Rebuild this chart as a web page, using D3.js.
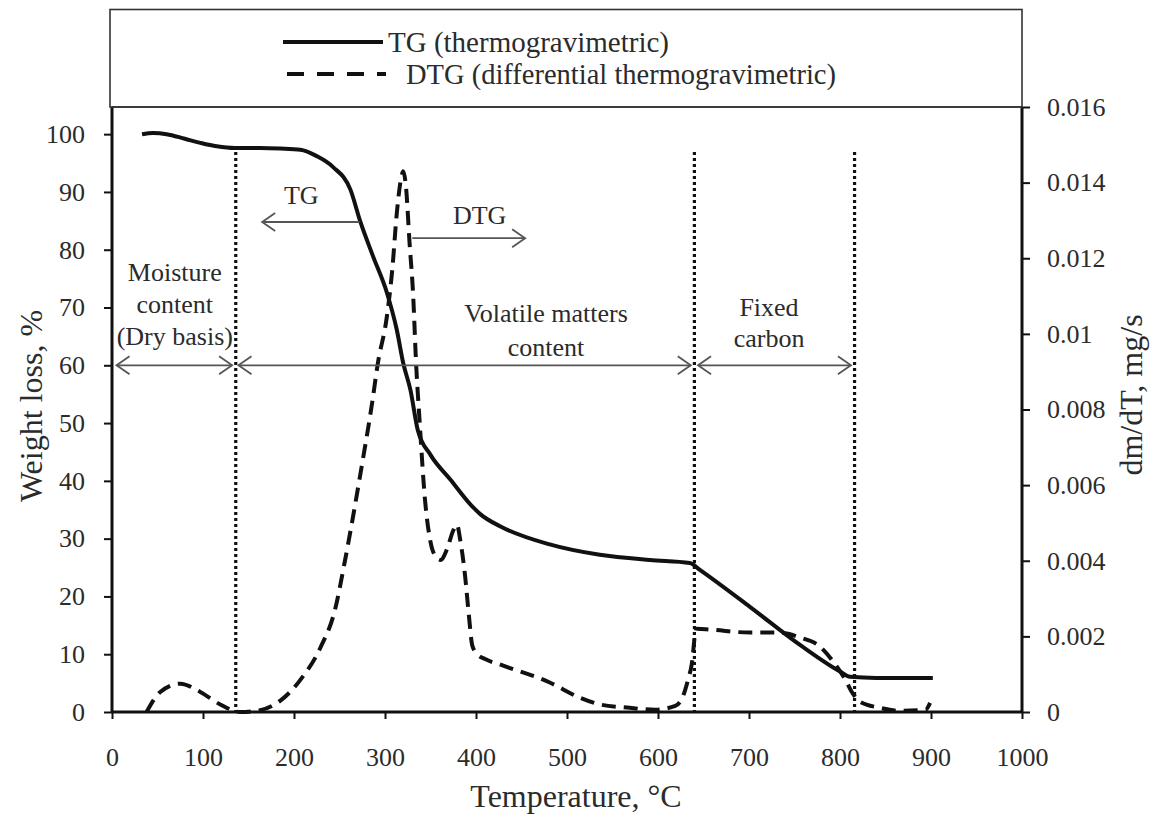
<!DOCTYPE html>
<html>
<head>
<meta charset="utf-8">
<script src="https://cdn.jsdelivr.net/npm/d3@7"></script>
<style>
  body { margin: 0; background: #fff; }
  text { font-family: "Liberation Serif", "Times New Roman", serif; fill: #2b2b2b; }
</style>
</head>
<body>
<div id="chart"></div>
<script>
// TG curve (weight %, left axis)
var tgTemp   = [33, 45, 60, 80, 97, 115, 135, 163, 185, 207, 225, 243, 262, 273, 287, 302, 313, 320, 328, 336, 350, 372, 394, 405, 427, 481, 536, 591, 635, 646, 701, 756, 800, 811, 840, 866, 902];
var tgWeight = [100, 100.2, 100, 99.2, 98.5, 97.9, 97.6, 97.6, 97.5, 97.3, 96.2, 94.3, 90.4, 84.8, 78.8, 72.6, 66.1, 60.4, 55.7, 48.8, 44.5, 40.2, 35.9, 34.2, 32.1, 29, 27.2, 26.3, 25.8, 24.6, 18.2, 11.6, 7, 6.1, 5.9, 5.9, 5.9];

// DTG curve (dm/dT, right axis)
var dtgTemp = [38, 53, 75, 97, 119, 141, 163, 185, 207, 229, 245, 256, 273, 286, 292, 302, 308, 313, 318, 320, 323, 327, 331, 334, 338, 344, 350, 356, 361, 368, 375, 379, 383, 388, 392, 396, 402, 410, 427, 481, 514, 536, 569, 597, 619, 628, 633, 637, 642, 657, 701, 734, 756, 778, 795, 806, 813, 822, 844, 866, 894, 899];
var dtgRate = [0, 0.00053, 0.00075, 0.00053, 0.0002, 0, 0.00005, 0.0003, 0.00085, 0.0017, 0.0027, 0.004, 0.0063, 0.0082, 0.0092, 0.01045, 0.0117, 0.0132, 0.01415, 0.0143, 0.0139, 0.0124, 0.011, 0.0093, 0.0077, 0.0056, 0.0045, 0.0041, 0.00402, 0.0043, 0.0048, 0.00495, 0.0045, 0.0036, 0.0026, 0.00175, 0.00152, 0.0014, 0.00125, 0.00078, 0.00038, 0.0002, 0.00011, 0.00006, 0.00016, 0.00045, 0.00085, 0.00125, 0.0022, 0.00218, 0.0021, 0.0021, 0.00197, 0.00173, 0.00125, 0.00085, 0.00053, 0.00027, 0.00011, 0.00003, 0.00006, 0.00024];

var xTicks = [0, 100, 200, 300, 400, 500, 600, 700, 800, 900, 1000];
var yLeftTicks = [0, 10, 20, 30, 40, 50, 60, 70, 80, 90, 100];
var yRightTicks = [0, 0.002, 0.004, 0.006, 0.008, 0.01, 0.012, 0.014, 0.016];

// stage boundaries (temperature, °C)
var dividers = [136, 640, 816];

var svgWidth = 1157;
var svgHeight = 817;

var margin = { top: 107, right: 135, bottom: 105, left: 112 };
var chartWidth = svgWidth - margin.left - margin.right;
var chartHeight = svgHeight - margin.top - margin.bottom;

var serif = "Liberation Serif, Times New Roman, serif";

var svg = d3.select("#chart")
  .append("svg")
  .attr("width", svgWidth)
  .attr("height", svgHeight);

var chartGroup = svg.append("g")
  .attr("transform", `translate(${margin.left}, ${margin.top})`);

var xScale = d3.scaleLinear().domain([0, 1000]).range([0, chartWidth]);
var yLeft = d3.scaleLinear().domain([0, 104.7]).range([chartHeight, 0]);
var yRight = d3.scaleLinear().domain([0, 0.016]).range([chartHeight, 0]);

// legend box above the plot
svg.append("rect")
  .attr("x", 110).attr("y", 9.5)
  .attr("width", margin.left + chartWidth - 110)
  .attr("height", margin.top - 9.5)
  .attr("fill", "none")
  .attr("stroke", "#333")
  .attr("stroke-width", 1.6);

svg.append("line")
  .attr("x1", 283).attr("x2", 383).attr("y1", 42).attr("y2", 42)
  .attr("stroke", "#111").attr("stroke-width", 4);
svg.append("text")
  .attr("x", 388).attr("y", 52)
  .attr("font-family", serif)
  .attr("font-size", 29)
  .text("TG (thermogravimetric)");

svg.append("line")
  .attr("x1", 287).attr("x2", 386).attr("y1", 74).attr("y2", 74)
  .attr("stroke", "#111").attr("stroke-width", 4)
  .attr("stroke-dasharray", "17,13");
svg.append("text")
  .attr("x", 406).attr("y", 84)
  .attr("font-family", serif)
  .attr("font-size", 28.5)
  .text("DTG (differential thermogravimetric)");

// top border of plot
chartGroup.append("line")
  .attr("x1", 0).attr("x2", chartWidth).attr("y1", 0).attr("y2", 0)
  .attr("stroke", "#333").attr("stroke-width", 1.6);

// axes
var bottomAxis = d3.axisBottom(xScale).tickValues(xTicks).tickSize(7).tickPadding(29)
  .tickFormat(d3.format("d"));
var leftAxis = d3.axisLeft(yLeft).tickValues(yLeftTicks).tickSize(8).tickPadding(19);
var rightAxis = d3.axisRight(yRight).tickValues(yRightTicks).tickSize(8).tickPadding(17)
  .tickFormat(d => d === 0 ? "0" : String(+d.toFixed(3)));

function styleAxis(g) {
  g.attr("font-family", serif);
  g.select(".domain").attr("stroke", "#111").attr("stroke-width", 3);
  g.selectAll(".tick line").attr("stroke", "#111").attr("stroke-width", 2);
  g.selectAll(".tick text")
    .attr("font-size", 26)
    .attr("font-family", serif)
    .attr("fill", "#333");
}

chartGroup.append("g")
  .attr("transform", `translate(0, ${chartHeight})`)
  .call(bottomAxis)
  .call(g => g.select(".domain").attr("d", `M0,0H${chartWidth}`))
  .call(styleAxis);

chartGroup.append("g")
  .call(leftAxis)
  .call(g => g.select(".domain").attr("d", `M0,0V${chartHeight}`))
  .call(styleAxis);

chartGroup.append("g")
  .attr("transform", `translate(${chartWidth}, 0)`)
  .call(rightAxis)
  .call(g => g.select(".domain").attr("d", `M0,0V${chartHeight}`))
  .call(styleAxis);

// dotted stage dividers
chartGroup.selectAll(".divider")
  .data(dividers)
  .enter()
  .append("line")
  .attr("class", "divider")
  .attr("x1", d => xScale(d)).attr("x2", d => xScale(d))
  .attr("y1", yLeft(96.9)).attr("y2", chartHeight)
  .attr("stroke", "#111")
  .attr("stroke-width", 3.2)
  .attr("stroke-dasharray", "3,3");

// curves
var tgData = tgTemp.map((t, i) => ({ t: t, v: tgWeight[i] }));
var dtgData = dtgTemp.map((t, i) => ({ t: t, v: dtgRate[i] }));

chartGroup.append("path")
  .datum(tgData)
  .attr("fill", "none")
  .attr("stroke", "#111")
  .attr("stroke-width", 4)
  .attr("d", d3.line().x(d => xScale(d.t)).y(d => yLeft(d.v)).curve(d3.curveMonotoneX));

chartGroup.append("path")
  .datum(dtgData)
  .attr("fill", "none")
  .attr("stroke", "#111")
  .attr("stroke-width", 4)
  .attr("stroke-dasharray", "14,8")
  .attr("d", d3.line().x(d => xScale(d.t)).y(d => yRight(d.v)).curve(d3.curveMonotoneX));

// arrows
function arrow(x1, x2, y, startHead, endHead) {
  var px1 = xScale(x1), px2 = xScale(x2), py = yLeft(y);
  var g = chartGroup.append("g")
    .attr("fill", "none").attr("stroke", "#555").attr("stroke-width", 1.8);
  g.append("line").attr("x1", px1).attr("x2", px2).attr("y1", py).attr("y2", py);
  if (startHead) g.append("path").attr("d", `M${px1 + 13},${py - 9}L${px1},${py}L${px1 + 13},${py + 9}`);
  if (endHead) g.append("path").attr("d", `M${px2 - 13},${py - 9}L${px2},${py}L${px2 - 13},${py + 9}`);
}

arrow(5, 132, 60, true, true);
arrow(139, 636, 60, true, true);
arrow(644, 812, 60, true, true);
arrow(165, 272, 84.8, true, false);
arrow(330, 454, 82, false, true);

// annotations
var notes = [
  { t: 69, v: 76.2, s: "Moisture" },
  { t: 69, v: 70.6, s: "content" },
  { t: 69, v: 65.1, s: "(Dry basis)" },
  { t: 477, v: 69.1, s: "Volatile matters" },
  { t: 477, v: 63.2, s: "content" },
  { t: 722, v: 70.1, s: "Fixed" },
  { t: 722, v: 64.8, s: "carbon" },
  { t: 208, v: 89.5, s: "TG" },
  { t: 404, v: 86.1, s: "DTG" }
];

chartGroup.selectAll(".note")
  .data(notes)
  .enter()
  .append("text")
  .attr("class", "note")
  .attr("x", d => xScale(d.t))
  .attr("y", d => yLeft(d.v))
  .attr("dy", "0.35em")
  .attr("text-anchor", "middle")
  .attr("font-family", serif)
  .attr("font-size", 26)
  .attr("fill", "#444")
  .text(d => d.s);

// axis titles
svg.append("text")
  .attr("x", 576).attr("y", 807)
  .attr("text-anchor", "middle")
  .attr("font-family", serif)
  .attr("font-size", 32)
  .text("Temperature, \u00B0C");

svg.append("text")
  .attr("transform", "translate(42, 406) rotate(-90)")
  .attr("text-anchor", "middle")
  .attr("font-family", serif)
  .attr("font-size", 32)
  .text("Weight loss, %");

svg.append("text")
  .attr("transform", "translate(1142, 395) rotate(-90)")
  .attr("text-anchor", "middle")
  .attr("font-family", serif)
  .attr("font-size", 32)
  .text("dm/dT, mg/s");
</script>
</body>
</html>
